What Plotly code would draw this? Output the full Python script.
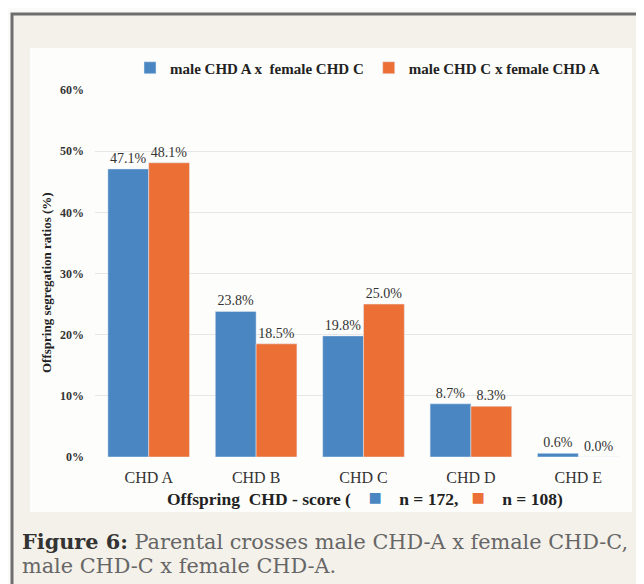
import plotly.graph_objects as go

categories = ["CHD A", "CHD B", "CHD C", "CHD D", "CHD E"]
series_names = ["male CHD A x  female CHD C", "male CHD C x female CHD A"]
values_ac = [47.1, 23.8, 19.8, 8.7, 0.6]
values_ca = [48.1, 18.5, 25.0, 8.3, 0.0]
y_ticks = [0, 10, 20, 30, 40, 50, 60]
blue = "#4a86c2"
orange = "#ec6f35"

# page has an 8px body margin; figure sized to fit the 644x584 window
OFF = 8
W, H = 644 - OFF, 584 - OFF
L, R, T, B = 87, 12, 82, 127
PW, PH = W - L - R, H - T - B

def px(x):  # screen x -> paper
    return (x - OFF - L) / PW

def py(y):  # screen y -> paper
    return (H - B - (y - OFF)) / PH

SERIF = "Liberation Serif"
NB = "&nbsp;"

fig = go.Figure()
for vals, name, col in [(values_ac, series_names[0], blue), (values_ca, series_names[1], orange)]:
    fig.add_trace(go.Bar(x=categories, y=vals, name=name, marker_color=col,
                         text=[f"{v:.1f}%" for v in vals], textposition="outside",
                         textfont=dict(family=SERIF, size=14, color="#333"),
                         cliponaxis=False))

shapes = [
    dict(type="rect", xref="paper", yref="paper", x0=px(12), x1=px(660), y0=py(14), y1=py(600),
         fillcolor="#f4f1ea", line=dict(color="#6e6e6e", width=3), layer="below"),
    dict(type="rect", xref="paper", yref="paper", x0=px(30), x1=px(632), y0=py(48), y1=py(512),
         fillcolor="#fdfdfb", line=dict(width=0), layer="below"),
]

sq_b = f"<span style='color:{blue};font-size:22px'>■</span>"
sq_o = f"<span style='color:{orange};font-size:22px'>■</span>"
xtitle = (f"<b>Offspring{NB}{NB}CHD{NB}-{NB}score{NB}({NB*4}{sq_b}{NB*4}n{NB}={NB}172,{NB*3}"
          f"{sq_o}{NB*4}n{NB}={NB}108)</b>")

annotations = [
    dict(text="<b>Offspring segregation ratios (%)</b>", xref="paper", yref="paper",
         x=px(46), y=py(283), textangle=-90, showarrow=False,
         font=dict(family=SERIF, size=13, color="#222"), xanchor="center", yanchor="middle"),
    dict(text=xtitle,
         xref="paper", yref="paper", x=px(365), y=py(497), showarrow=False,
         font=dict(family=SERIF, size=17.5, color="#222"), xanchor="center", yanchor="middle"),
    dict(text="<b>Figure 6:</b> <span style='color:#666'>Parental crosses male CHD-A x female CHD-C,</span>",
         xref="paper", yref="paper", x=px(20), y=py(541), showarrow=False, xanchor="left", yanchor="middle",
         font=dict(family="DejaVu Serif", size=20.8, color="#333")),
    dict(text="<span style='color:#666'>male CHD-C x female CHD-A.</span>",
         xref="paper", yref="paper", x=px(20), y=py(566), showarrow=False, xanchor="left", yanchor="middle",
         font=dict(family="DejaVu Serif", size=20.8, color="#666")),
]

fig.update_layout(
    width=W, height=H,
    margin=dict(l=L, r=R, t=T, b=B, autoexpand=False),
    paper_bgcolor="#fafaf8",
    plot_bgcolor="rgba(0,0,0,0)",
    barmode="group", bargap=0.24, bargroupgap=0.0,
    shapes=shapes, annotations=annotations,
    legend=dict(orientation="h", x=px(130), y=py(68), xanchor="left", yanchor="middle",
                font=dict(family=SERIF, size=15, color="#222", weight="bold"),
                bgcolor="rgba(0,0,0,0)", itemwidth=30, tracegroupgap=0),
    font=dict(family=SERIF, color="#222"),
)
fig.update_yaxes(range=[0, 60], tickvals=y_ticks, ticktext=[f"<b>{v}%</b>" for v in y_ticks],
                 showgrid=True, gridcolor="#e6e6e6", gridwidth=1, zeroline=False,
                 tickfont=dict(family=SERIF, size=12, color="#333"), ticklabelstandoff=10,
                 showline=False, automargin=False)
fig.update_xaxes(tickfont=dict(family=SERIF, size=16, color="#333"), showline=False,
                 ticks="", ticklabelstandoff=9, automargin=False)

fig.write_html("out.html")
